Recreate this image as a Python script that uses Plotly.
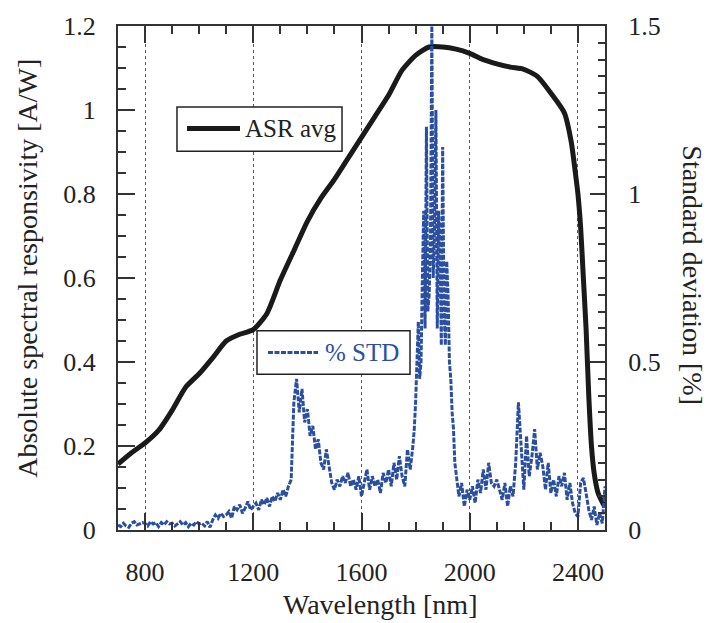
import plotly.graph_objects as go

# ASR average (left axis, A/W)
asr_wl = [700, 750, 800, 850, 900, 950, 1000, 1050, 1100, 1150, 1200, 1250, 1300, 1350,
          1400, 1450, 1500, 1550, 1600, 1650, 1700, 1750, 1800, 1850, 1900, 1950, 2000,
          2050, 2100, 2150, 2200, 2250, 2300, 2350, 2375, 2390, 2400, 2410, 2420, 2430,
          2440, 2450, 2460, 2475, 2500]
asr_val = [0.157, 0.184, 0.207, 0.237, 0.285, 0.34, 0.372, 0.41, 0.45, 0.466, 0.477, 0.515,
           0.595, 0.665, 0.735, 0.79, 0.835, 0.885, 0.935, 0.985, 1.035, 1.095, 1.13, 1.15,
           1.15, 1.145, 1.135, 1.12, 1.11, 1.102, 1.097, 1.08, 1.04, 0.993, 0.925, 0.853,
           0.8, 0.72, 0.6, 0.48, 0.32, 0.2, 0.135, 0.087, 0.054]

# % STD (right axis)
std_wl_a = list(range(700, 1790, 10))     # 700..1780
std_val_a = [
    0.015, 0.01, 0.02, 0.012, 0.008, 0.02, 0.025, 0.015, 0.018, 0.022,
    0.02, 0.012, 0.025, 0.018, 0.022, 0.01, 0.022, 0.015, 0.025, 0.018,
    0.02, 0.012, 0.018, 0.025, 0.015, 0.022, 0.01, 0.02, 0.015, 0.025,
    0.018, 0.02, 0.012, 0.025, 0.008, 0.03, 0.045, 0.035, 0.05, 0.04,
    0.045, 0.055, 0.035, 0.07, 0.06, 0.075, 0.05, 0.065, 0.085, 0.06,
    0.07, 0.08, 0.06, 0.09, 0.075, 0.095, 0.07, 0.1, 0.085, 0.11,
    0.09, 0.12, 0.1, 0.13, 0.15, 0.38, 0.45, 0.35, 0.42, 0.32,
    0.36, 0.28, 0.31, 0.24, 0.27, 0.2, 0.18, 0.24, 0.19, 0.14,
    0.12, 0.15, 0.13, 0.16, 0.14, 0.17, 0.13, 0.15, 0.12, 0.16,
    0.1, 0.14, 0.18, 0.12, 0.16, 0.13, 0.15, 0.11, 0.17, 0.14,
    0.18, 0.13, 0.2, 0.15, 0.22, 0.16, 0.13, 0.24, 0.18,
]
std_wl_b = list(range(1790, 1955, 5))     # 1790..1950, main peak
std_val_b = [
    0.25, 0.3, 0.38, 0.5, 0.62, 0.45, 0.5, 0.75, 0.95, 0.6,
    1.2, 0.65, 0.7, 0.85, 1.5, 0.75, 0.9, 1.25, 0.6, 0.95,
    0.85, 0.55, 1.14, 0.65, 0.55, 0.8, 0.7, 0.5, 0.45, 0.35,
    0.3, 0.2, 0.17,
]
std_wl_c = list(range(1960, 2501, 10))    # 1960..2500
std_val_c = [
    0.1, 0.14, 0.07, 0.12,
    0.09, 0.13, 0.08, 0.15, 0.11, 0.18, 0.12, 0.2, 0.14, 0.13,
    0.15, 0.12, 0.09, 0.14, 0.07, 0.13, 0.1, 0.2, 0.38, 0.25,
    0.12, 0.28, 0.16, 0.22, 0.3, 0.18, 0.23, 0.19, 0.12, 0.2,
    0.11, 0.15, 0.1, 0.16, 0.13, 0.17, 0.09, 0.14, 0.08, 0.05,
    0.04, 0.14, 0.155, 0.11, 0.06, 0.03, 0.07, 0.015, 0.05, 0.02,
    0.13,
]
std_wl = std_wl_a + std_wl_b + std_wl_c
std_val = std_val_a + std_val_b + std_val_c

FONT = "Liberation Serif, Times New Roman, Times, serif"
AX = "#333333"
BLUE = "#2a4fa0"
TXT = "#222222"

fig = go.Figure()
fig.add_trace(go.Scatter(x=asr_wl, y=asr_val, mode="lines", name="ASR avg",
                         line=dict(color="#1a1a1a", width=5, shape="spline", smoothing=0.6),
                         yaxis="y", showlegend=False))
fig.add_trace(go.Scatter(x=std_wl, y=std_val, mode="lines", name="% STD",
                         line=dict(color=BLUE, width=3, dash="5px,1.5px"), yaxis="y2",
                         showlegend=False))

# legend boxes (paper coordinates)
shapes = [
    dict(type="rect", xref="paper", yref="paper", x0=0.1211, x1=0.4600, y0=0.7515, y1=0.8395,
         line=dict(color=TXT, width=1.5), fillcolor="white", layer="above"),
    dict(type="line", xref="paper", yref="paper", x0=0.1417, x1=0.2505, y0=0.7965, y1=0.7965,
         line=dict(color="#1a1a1a", width=5), layer="above"),
    dict(type="rect", xref="paper", yref="paper", x0=0.2854, x1=0.5996, y0=0.3092, y1=0.3953,
         line=dict(color=TXT, width=1.5), fillcolor="white", layer="above"),
    dict(type="line", xref="paper", yref="paper", x0=0.308, x1=0.4107, y0=0.3523, y1=0.3523,
         line=dict(color=BLUE, width=3, dash="5px,1.5px"), layer="above"),
]

fig.update_layout(
    width=710, height=623,
    margin=dict(l=118, r=105, t=19, b=93),
    paper_bgcolor="white", plot_bgcolor="white",
    showlegend=False,
    font=dict(family=FONT, size=26, color=TXT),
    xaxis=dict(range=[700, 2500], tick0=800, dtick=400, ticks="inside", ticklen=17,
               tickwidth=1.5, tickcolor=AX, showline=True, linecolor=AX, linewidth=2,
               mirror="ticks", showgrid=True, gridcolor="#2f55d8", griddash="dot",
               gridwidth=1.2, zeroline=False, ticklabelstandoff=18,
               minor=dict(dtick=100, tick0=700, ticks="inside", ticklen=8,
                          tickcolor=AX, tickwidth=1.5, showgrid=False),
               tickfont=dict(family=FONT, size=26, color=TXT)),
    yaxis=dict(range=[0, 1.2], dtick=0.2, ticks="inside", ticklen=17, tickwidth=1.5,
               tickcolor=AX, showline=True, linecolor=AX, linewidth=2, showgrid=False,
               zeroline=False, ticklabelstandoff=15,
               minor=dict(dtick=0.05, ticks="inside", ticklen=8, tickcolor=AX,
                          tickwidth=1.5, showgrid=False),
               tickfont=dict(family=FONT, size=26, color=TXT)),
    yaxis2=dict(range=[0, 1.5], dtick=0.5, overlaying="y", side="right", ticks="inside",
                ticklen=15, tickwidth=1.5, tickcolor=AX, showline=True, linecolor=AX,
                linewidth=2, showgrid=False, zeroline=False, ticklabelstandoff=16,
                minor=dict(dtick=0.05, ticks="inside", ticklen=7, tickcolor=AX,
                           tickwidth=1.5, showgrid=False),
                tickfont=dict(family=FONT, size=26, color=TXT)),
    shapes=shapes,
    annotations=[
        dict(text="ASR avg", xref="paper", yref="paper", x=0.2567, y=0.7965,
             xanchor="left", yanchor="middle", showarrow=False,
             font=dict(family=FONT, size=25, color=TXT)),
        dict(text="% STD", xref="paper", yref="paper", x=0.4209, y=0.3523,
             xanchor="left", yanchor="middle", showarrow=False,
             font=dict(family=FONT, size=25, color=BLUE)),
        dict(text="Wavelength [nm]", xref="paper", yref="paper", x=0.538, y=-0.147,
             xanchor="center", yanchor="middle", showarrow=False,
             font=dict(family=FONT, size=28, color=TXT)),
        dict(text="Absolute spectral responsivity [A/W]", xref="paper", yref="paper",
             x=-0.185, y=0.52, xanchor="center", yanchor="middle", textangle=-90,
             showarrow=False, font=dict(family=FONT, size=28, color=TXT)),
        dict(text="Standard deviation [%]", xref="paper", yref="paper",
             x=1.179, y=0.505, xanchor="center", yanchor="middle", textangle=90,
             showarrow=False, font=dict(family=FONT, size=28, color=TXT)),
    ],
)

fig.write_html("out.html")
